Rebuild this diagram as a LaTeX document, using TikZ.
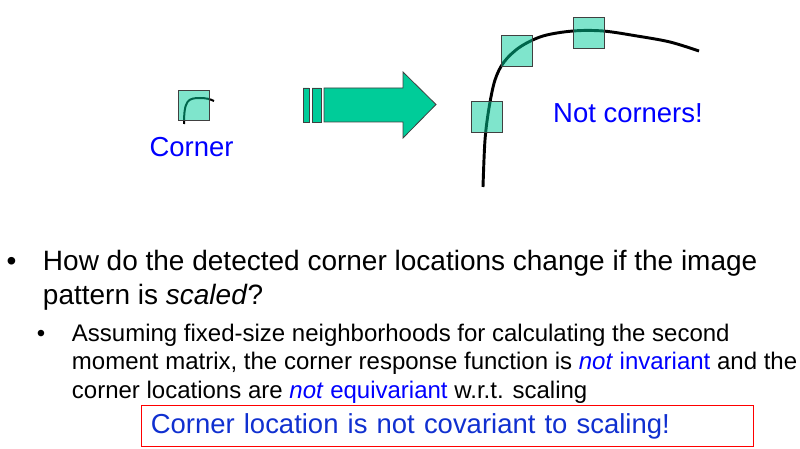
\documentclass[tikz,border=0pt]{standalone}
\usepackage{fontspec}
\setmainfont{Liberation Sans}
\usetikzlibrary{positioning}
\definecolor{patchgreen}{HTML}{00CC99}
\definecolor{edgegray}{HTML}{404040}
\definecolor{notblue}{HTML}{0000FF}
\definecolor{boxblue}{HTML}{1030D0}

\begin{document}
\begin{tikzpicture}[x=0.75pt,y=-0.75pt,
 patch/.style={draw=edgegray,fill=patchgreen,fill opacity=0.5,minimum size=22.9pt,inner sep=0pt},
 textline/.style={anchor=base west,inner sep=0pt},
 dot/.style={anchor=base,inner sep=0pt},
 big/.style={font=\fontsize{21}{25}\selectfont},
 small/.style={font=\fontsize{18}{22}\selectfont},
 lbl/.style={text=notblue,inner sep=0pt,anchor=base,font=\fontsize{20.6}{24}\selectfont}]
\useasboundingbox (0,0) rectangle (800,449);
% corner patch
\draw[line width=1.5pt] (184,124) .. controls (184,100) and (188,98) .. (200,98) .. controls (206,98) and (210,99) .. (214,101);
\node[patch] (c0) at (193.5,105.5) {};
\node[lbl] (corner) at (191.5,157) {Corner};
% block arrow
\filldraw[fill=patchgreen,draw=edgegray,line width=0.6pt] (303,88) rectangle (309,122) (312,88) rectangle (321,122);
\filldraw[fill=patchgreen,draw=edgegray,line width=0.6pt] (324,88) -- (403,88) -- (403,72) -- (436,104.5) -- (403,138) -- (403,122) -- (324,122) -- cycle;
% scaled curve
\draw[line width=2.2pt] plot[smooth,tension=0.55] coordinates {(483,187) (485,140) (489,108) (495,80) (504,62) (520,47) (543,36) (573,31) (603,31) (637,36) (670,42) (699,51)};
\node[patch] (c1) at (487,117) {};
\node[patch] (c2) at (517,51) {};
\node[patch] (c3) at (589,33) {};
\node[lbl] (notc) at (628,123) {Not corners!};
% bullets
\node[dot,big] (dot1) at (11.5,271) {•};
\node[textline,big] (q1) at (42.7,271) {How do the detected corner locations change if the image};
\node[textline,big] (q2) at (42.7,304) {pattern is \textit{scaled}?};
\node[dot,small] (dot2) at (41,341) {•};
\node[textline,small] (s1) at (71.7,341) {Assuming fixed-size neighborhoods for calculating the second};
\node[textline,small] (s2) at (71.7,369.5) {moment matrix, the corner response function is \textcolor{notblue}{\textit{not} invariant} and the};
\node[textline,small] (s3) at (71.7,398) {corner locations are \textcolor{notblue}{\textit{not} equivariant} w.r.t. scaling};
\node[draw=red,line width=0.75pt,text=boxblue,font=\fontsize{20.6}{24}\selectfont,text width=445.5pt,inner xsep=6.75pt,inner ysep=0pt,minimum height=30.75pt,align=left] (note) at (447.8,426.2) {Corner location is not covariant to scaling!};
\end{tikzpicture}
\end{document}
